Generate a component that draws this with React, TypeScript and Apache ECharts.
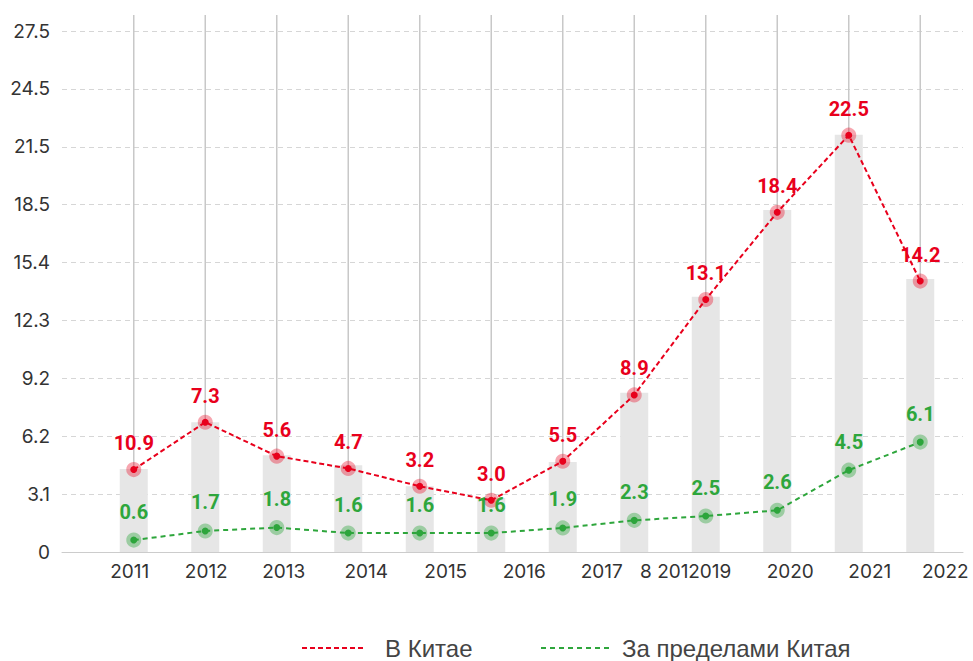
import React, { useEffect, useRef } from 'react';
import * as echarts from 'echarts';

const years = ['2011', '2012', '2013', '2014', '2015', '2016', '2017', '2018', '2019', '2020', '2021', '2022'];
const yearLabels = ['2011', '2012', '2013', '2014', '2015', '2016', '2017', '8 201', '2019', '2020', '2021', '2022'];
const barValues = [4.38, 6.85, 5.11, 4.58, 3.47, 2.85, 4.75, 8.4, 13.47, 18.05, 22.03, 14.41];
const chinaValues = [4.35, 6.85, 5.06, 4.41, 3.47, 2.73, 4.79, 8.29, 13.33, 17.93, 22.0, 14.3];
const chinaLabels = ['10.9', '7.3', '5.6', '4.7', '3.2', '3.0', '5.5', '8.9', '13.1', '18.4', '22.5', '14.2'];
const abroadValues = [0.63, 1.11, 1.29, 1.0, 1.0, 1.0, 1.27, 1.67, 1.9, 2.2, 4.32, 5.8];
const abroadLabels = ['0.6', '1.7', '1.8', '1.6', '1.6', '1.6', '1.9', '2.3', '2.5', '2.6', '4.5', '6.1'];
const yTickLabels = ['0', '3.1', '6.2', '9.2', '12.3', '15.4', '18.5', '21.5', '24.5', '27.5'];
const yMax = 27.5;

// layout: horizontal shift (px) of each category label relative to its bar
const labelShift = [-4, 1, 7, 18, 26, 33, 39, 30, 4, 13, 21, 25];

const RED = '#e8001c';
const GREEN = '#2ea63c';

export default function App() {
  const ref = useRef<HTMLDivElement>(null);
  useEffect(() => {
    document.body.style.margin = '0';
    const chart = echarts.init(ref.current!, null, { renderer: 'svg' });
    const step = yMax / (yTickLabels.length - 1);
    const tickValues = yTickLabels.map((_, i) => i * step);
    const rich: Record<string, any> = {};
    labelShift.forEach((d, i) => {
      rich['s' + i] = {
        fontFamily: 'Inter',
        fontSize: 19,
        color: '#333',
        padding: d >= 0 ? [0, 0, 0, 2 * d] : [0, -2 * d, 0, 0],
      };
    });
    const gridTop = 31;
    const gridBottom = 109;
    chart.setOption({
      animation: false,
      grid: [
        { left: 62, right: 10, top: gridTop, bottom: gridBottom },
        { left: 98, right: 17, top: gridTop, bottom: gridBottom },
      ],
      legend: [
        {
          left: 301,
          top: 636,
          padding: 0,
          itemWidth: 62,
          itemHeight: 14,
          data: ['В Китае'],
          itemStyle: { opacity: 0 },
          textStyle: { fontFamily: 'Liberation Sans', fontSize: 24, color: '#444', padding: [0, 0, 0, 16] },
        },
        {
          left: 540,
          top: 636,
          padding: 0,
          itemWidth: 70,
          itemHeight: 14,
          data: ['За пределами Китая'],
          itemStyle: { opacity: 0 },
          textStyle: { fontFamily: 'Liberation Sans', fontSize: 24, color: '#444', padding: [0, 0, 0, 6] },
        },
      ],
      xAxis: [
        {
          type: 'category',
          gridIndex: 0,
          data: years,
          axisLine: { show: true, lineStyle: { color: '#cccccc', width: 1 } },
          axisTick: { show: false },
          axisLabel: { show: false },
          splitLine: { show: false },
        },
        {
          type: 'category',
          gridIndex: 1,
          data: years,
          axisLine: { show: false },
          axisTick: { show: false },
          axisLabel: {
            interval: 0,
            margin: 10,
            formatter: (_v: string, i: number) => `{s${i}|${yearLabels[i]}}`,
            rich,
          },
        },
      ],
      yAxis: [
        {
          type: 'value',
          gridIndex: 0,
          min: 0,
          max: yMax,
          axisLine: { show: false },
          axisTick: { show: false, customValues: tickValues },
          axisLabel: {
            customValues: tickValues,
            margin: 12,
            fontFamily: 'Inter',
            fontSize: 19,
            color: '#333',
            formatter: (v: number) => yTickLabels[Math.round(v / step)],
          },
          splitLine: { show: true, lineStyle: { color: '#d6d6d6', type: [5, 4], width: 1 } },
        },
        {
          type: 'value',
          gridIndex: 1,
          min: 0,
          max: yMax,
          show: false,
          splitLine: { show: false },
        },
      ],
      series: [
        {
          type: 'bar',
          xAxisIndex: 1,
          yAxisIndex: 1,
          data: barValues,
          barWidth: 28,
          itemStyle: { color: '#e6e6e6' },
          z: 1,
        },
        {
          type: 'custom',
          xAxisIndex: 1,
          yAxisIndex: 1,
          data: chinaValues.map((v, i) => [i, v]),
          encode: { x: 0, y: 1 },
          z: 2,
          renderItem: (params: any, api: any) => {
            const pt = api.coord([api.value(0), api.value(1)]);
            const cs = params.coordSys;
            return {
              type: 'line',
              shape: { x1: pt[0], y1: cs.y - 16, x2: pt[0], y2: pt[1] },
              style: { stroke: '#c8c8c8', lineWidth: 1.5 },
            };
          },
        },
        {
          name: 'В Китае',
          type: 'line',
          xAxisIndex: 1,
          yAxisIndex: 1,
          data: chinaValues,
          z: 3,
          symbol: 'circle',
          symbolSize: 7,
          itemStyle: { color: RED, borderColor: 'rgba(232,0,28,0.35)', borderWidth: 8 },
          lineStyle: { color: RED, width: 2, type: [5, 3] },
          label: {
            show: true,
            position: 'top',
            distance: 9,
            fontFamily: 'Roboto',
            fontWeight: 'bold',
            fontSize: 20,
            color: RED,
            formatter: (p: any) => chinaLabels[p.dataIndex],
          },
        },
        {
          name: 'За пределами Китая',
          type: 'line',
          xAxisIndex: 1,
          yAxisIndex: 1,
          data: abroadValues,
          z: 3,
          symbol: 'circle',
          symbolSize: 7,
          itemStyle: { color: GREEN, borderColor: 'rgba(46,166,60,0.4)', borderWidth: 8 },
          lineStyle: { color: GREEN, width: 2, type: [5, 4] },
          label: {
            show: true,
            position: 'top',
            distance: 11,
            fontFamily: 'Roboto',
            fontWeight: 'bold',
            fontSize: 20,
            color: GREEN,
            formatter: (p: any) => abroadLabels[p.dataIndex],
          },
        },
      ],
    });
    return () => chart.dispose();
  }, []);
  return <div ref={ref} style={{ width: 973, height: 661 }} />;
}
